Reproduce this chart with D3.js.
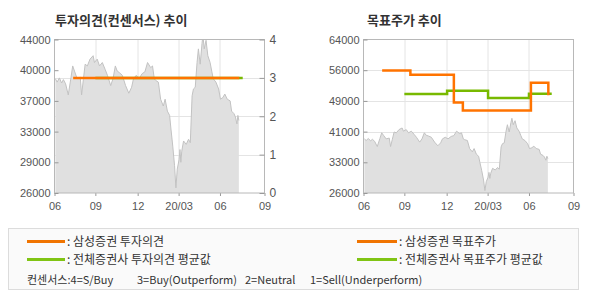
<!DOCTYPE html>
<html><head><meta charset="utf-8">
<script src="https://cdn.jsdelivr.net/npm/d3@7"></script>
<style>
body{margin:0;background:#fff;}
svg text{font-family:"Liberation Sans",Arial,sans-serif;}
svg .ko{font-family:"Noto Sans CJK KR","Noto Sans",sans-serif;}
</style></head><body><svg id="c" width="590" height="300"></svg>
<script>
// ---------------- DATA ----------------
const priceDates = ["2019-06-03","2019-06-07","2019-06-12","2019-06-17","2019-06-21","2019-06-26","2019-07-02","2019-07-08","2019-07-12","2019-07-16","2019-07-22","2019-07-29","2019-08-01","2019-08-05","2019-08-09","2019-08-14","2019-08-20","2019-08-27","2019-08-30","2019-09-05","2019-09-10","2019-09-16","2019-09-22","2019-09-27","2019-10-04","2019-10-09","2019-10-14","2019-10-18","2019-10-23","2019-10-29","2019-11-05","2019-11-12","2019-11-18","2019-11-22","2019-11-28","2019-12-04","2019-12-11","2019-12-17","2019-12-23","2019-12-30","2020-01-03","2020-01-07","2020-01-10","2020-01-16","2020-01-21","2020-01-27","2020-01-31","2020-02-05","2020-02-10","2020-02-13","2020-02-17","2020-02-21","2020-02-24","2020-02-27","2020-03-02","2020-03-04","2020-03-06","2020-03-08","2020-03-12","2020-03-18","2020-03-23","2020-03-27","2020-03-31","2020-04-03","2020-04-07","2020-04-11","2020-04-14","2020-04-18","2020-04-22","2020-04-24","2020-04-27","2020-05-01","2020-05-05","2020-05-10","2020-05-14","2020-05-17","2020-05-23","2020-05-29","2020-06-02","2020-06-07","2020-06-11","2020-06-16","2020-06-22","2020-06-25","2020-06-30","2020-07-03","2020-07-06","2020-07-08","2020-07-10"];
const priceValues = [39400,39000,39500,38900,39300,38800,37500,39500,40900,40300,39400,39600,37500,39300,41100,40900,41700,42100,41300,41700,40900,41300,40500,39800,38600,39400,40900,40300,40100,39800,38600,37700,38400,39400,39800,39400,40000,40200,41300,40700,40900,39400,39200,39000,37000,36200,37000,35600,35100,33500,31500,29200,26600,28800,29900,31100,29600,30900,32100,31700,32300,31900,37400,38200,38400,41300,42900,41100,43500,44500,42900,43900,42100,41300,40200,39400,39000,38200,37000,37200,37600,37000,36800,35600,35300,34900,34100,35100,34500];

const samsungDates = ["2019-07-13","2019-09-14","2019-12-17","2020-01-06","2020-06-05","2020-07-11"];
const samsungOpinion = [3,3,3,3,3,3];
const samsungTarget = [56300,55300,48400,46400,53300,50200];

const avgDates = ["2019-09-01","2019-12-02","2020-03-02","2020-06-01","2020-07-18"];
const avgOpinion = [3,3,3,3,3];
const avgTarget = [50500,51300,49500,50600,50600];

const monthTicks = ["2019-06-01","2019-09-01","2019-12-01","2020-03-01","2020-06-01","2020-09-01"];
const monthTickLabels = ["06","09","12","20/03","06","09"];
const leftTickLabels = ["26000","29000","33000","37000","40000","44000"];
const opinionTicks = [0,1,2,3,4];
const rightTickLabels = ["26000","33000","41000","49000","56000","64000"];

const legendLeft = [": 삼성증권 투자의견", ": 전체증권사 투자의견 평균값"];
const legendRight = [": 삼성증권 목표주가", ": 전체증권사 목표주가 평균값"];
const consensusNotes = ["컨센서스:4=S/Buy", "3=Buy(Outperform)", "2=Neutral", "1=Sell(Underperform)"];
const titles = ["투자의견(컨센서스) 추이", "목표주가 추이"];

// ---------------- SETUP ----------------
const parse = d3.timeParse("%Y-%m-%d");
const price = priceDates.map((d,i)=>({date:parse(d), v:priceValues[i]}));
const samsungOp = samsungDates.map((d,i)=>({date:parse(d), v:samsungOpinion[i]}));
const avgOp = avgDates.map((d,i)=>({date:parse(d), v:avgOpinion[i]}));
const samsungTp = samsungDates.map((d,i)=>({date:parse(d), v:samsungTarget[i]}));
const avgTp = avgDates.map((d,i)=>({date:parse(d), v:avgTarget[i]}));
const tickDates = monthTicks.map(parse);

const ORANGE = "#ff7300", GREEN = "#78b900";
const svg = d3.select("#c");
const W = 210, TOP = 39.5, BOT = 193;
const tickFrac = [0, 0.1945, 0.396, 0.591, 0.788, 1];

function panel(x0, id){
  const g = svg.append("g").attr("transform", `translate(${x0},0)`);
  const x = d3.scaleTime().domain(tickDates).range(tickFrac.map(f=>f*W));
  g.append("clipPath").attr("id", id).append("rect")
    .attr("x",0).attr("y",TOP).attr("width",W).attr("height",BOT-TOP);
  return {g, x};
}

function bottomAxis(p){
  const ax = p.g.append("g").attr("transform", `translate(0,${BOT})`)
    .call(d3.axisBottom(p.x).tickValues(tickDates).tickSize(3).tickPadding(6)
      .tickFormat((d,i)=>monthTickLabels[i]));
  ax.select(".domain").remove();
  ax.selectAll("line").attr("stroke","#999");
  ax.selectAll("text").attr("fill","#555").style("font-size","11px");
  p.g.append("g").selectAll("line").data(tickDates.slice(1,-1)).join("line")
    .attr("x1",d=>Math.round(p.x(d))+0.5).attr("x2",d=>Math.round(p.x(d))+0.5)
    .attr("y1",TOP).attr("y2",BOT).attr("stroke","#e4e4e4");
}

// ---------------- LEFT PANEL ----------------
{
  const p = panel(54.5, "clipL");
  const y = d3.scaleLinear().domain([26000,44000]).range([BOT,TOP]);
  const yo = d3.scaleLinear().domain([0,4]).range([BOT,TOP]);
  p.g.append("g").selectAll("line").data(opinionTicks.slice(1,-1)).join("line")
    .attr("x1",0).attr("x2",W).attr("y1",d=>Math.round(yo(d))+0.5).attr("y2",d=>Math.round(yo(d))+0.5)
    .attr("stroke","#e4e4e4");
  bottomAxis(p);
  const area = d3.area().x(d=>p.x(d.date)).y0(BOT).y1(d=>y(d.v));
  const line = d3.line().x(d=>p.x(d.date)).y(d=>y(d.v));
  const cg = p.g.append("g").attr("clip-path","url(#clipL)");
  cg.append("path").datum(price).attr("d",area).attr("fill","#e0e0e0");
  cg.append("path").datum(price).attr("d",line).attr("fill","none").attr("stroke","#c2c2c2").attr("stroke-width",1);
  p.g.append("rect").attr("x",0).attr("y",TOP).attr("width",W).attr("height",BOT-TOP)
    .attr("fill","none").attr("stroke","#b8b8b8");
  const la = p.g.append("g").call(d3.axisLeft(y).tickValues(d3.range(26000,44001,3600)).tickSize(-4).tickPadding(4)
    .tickFormat((d,i)=>leftTickLabels[i]));
  la.select(".domain").remove();
  la.selectAll("line").attr("stroke","#999");
  la.selectAll("text").attr("fill","#555").style("font-size","11px");
  const ra = p.g.append("g").attr("transform",`translate(${W},0)`)
    .call(d3.axisRight(yo).tickValues(opinionTicks).tickSize(-5).tickPadding(5).tickFormat(d3.format("d")));
  ra.select(".domain").remove();
  ra.selectAll("line").attr("stroke","#999");
  ra.selectAll("text").attr("fill","#555").style("font-size","12px");
  const ol = d3.line().curve(d3.curveStepAfter).x(d=>p.x(d.date)).y(d=>yo(d.v));
  p.g.append("path").datum(avgOp).attr("d",ol).attr("fill","none").attr("stroke",GREEN).attr("stroke-width",2.5);
  p.g.append("path").datum(samsungOp).attr("d",ol).attr("fill","none").attr("stroke",ORANGE).attr("stroke-width",2.5);
  svg.append("text").attr("class","ko").attr("x",55).attr("y",25).attr("font-weight","bold")
    .attr("fill","#333").style("font-size","13px").text(titles[0]);
}

// ---------------- RIGHT PANEL ----------------
{
  const p = panel(363.5, "clipR");
  const y = d3.scaleLinear().domain([26000,64000]).range([BOT,TOP]);
  const tv = d3.range(26000,64001,7600);
  p.g.append("g").selectAll("line").data(tv.slice(1,-1)).join("line")
    .attr("x1",0).attr("x2",W).attr("y1",d=>Math.round(y(d))+0.5).attr("y2",d=>Math.round(y(d))+0.5)
    .attr("stroke","#e4e4e4");
  bottomAxis(p);
  const area = d3.area().x(d=>p.x(d.date)).y0(BOT).y1(d=>y(d.v));
  const line = d3.line().x(d=>p.x(d.date)).y(d=>y(d.v));
  const cg = p.g.append("g").attr("clip-path","url(#clipR)");
  cg.append("path").datum(price).attr("d",area).attr("fill","#e0e0e0");
  cg.append("path").datum(price).attr("d",line).attr("fill","none").attr("stroke","#c2c2c2").attr("stroke-width",1);
  p.g.append("rect").attr("x",0).attr("y",TOP).attr("width",W).attr("height",BOT-TOP)
    .attr("fill","none").attr("stroke","#b8b8b8");
  const la = p.g.append("g").call(d3.axisLeft(y).tickValues(tv).tickSize(-4).tickPadding(4)
    .tickFormat((d,i)=>rightTickLabels[i]));
  la.select(".domain").remove();
  la.selectAll("line").attr("stroke","#999");
  la.selectAll("text").attr("fill","#555").style("font-size","11px");
  const tl = d3.line().curve(d3.curveStepAfter).x(d=>p.x(d.date)).y(d=>y(d.v));
  p.g.append("path").datum(avgTp).attr("d",tl).attr("fill","none").attr("stroke",GREEN).attr("stroke-width",2.5);
  p.g.append("path").datum(samsungTp).attr("d",tl).attr("fill","none").attr("stroke",ORANGE).attr("stroke-width",2.5);
  svg.append("text").attr("class","ko").attr("x",367).attr("y",25).attr("font-weight","bold")
    .attr("fill","#333").style("font-size","13px").text(titles[1]);
}

// ---------------- LEGEND ----------------
{
  const lg = svg.append("g");
  lg.append("rect").attr("x",8.5).attr("y",228.5).attr("width",570).attr("height",61)
    .attr("fill","#fafafa").attr("stroke","#dcdcdc");
  const rows = [241.5, 259.5];
  const cols = [{lx:27, lw:38, items:legendLeft}, {lx:357, lw:40, items:legendRight}];
  const colors = ["#f07400", "#80c414"];
  cols.forEach(c=>{
    c.items.forEach((t,i)=>{
      lg.append("line").attr("x1",c.lx).attr("x2",c.lx+c.lw).attr("y1",rows[i]).attr("y2",rows[i])
        .attr("stroke",colors[i]).attr("stroke-width",3);
      lg.append("text").attr("class","ko").attr("x",c.lx+c.lw+2).attr("y",rows[i]+4.5)
        .attr("fill","#333").style("font-size","12px").text(t);
    });
  });
  const noteX = [27, 137, 245, 310];
  consensusNotes.forEach((t,i)=>{
    lg.append("text").attr("class","ko").attr("x",noteX[i]).attr("y",284)
      .attr("fill","#333").style("font-size","11px").text(t);
  });
}
</script></body></html>
